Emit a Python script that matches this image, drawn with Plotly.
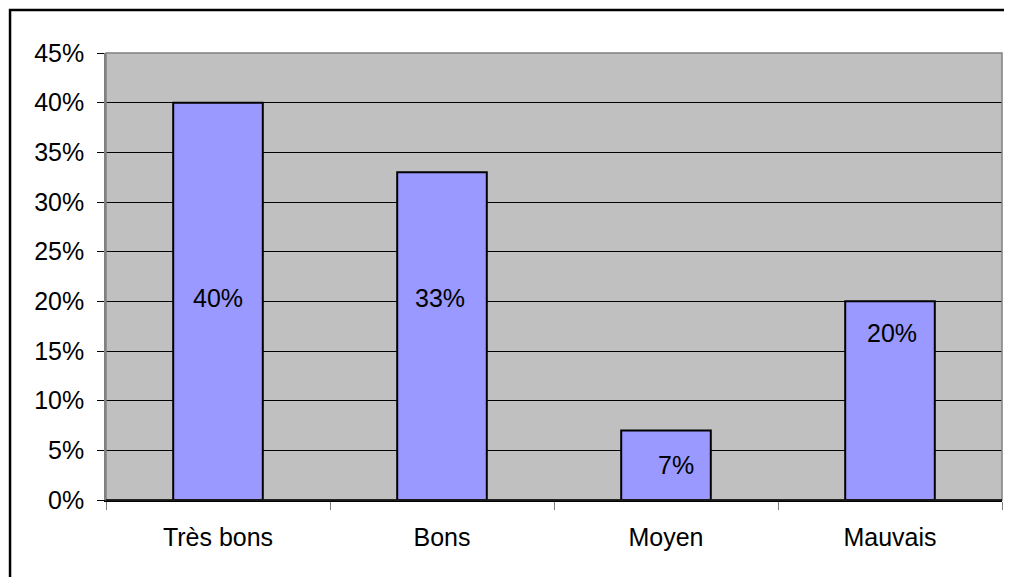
import plotly.graph_objects as go

categories = ["Très bons", "Bons", "Moyen", "Mauvais"]
values = [0.40, 0.33, 0.07, 0.20]
value_labels = ["40%", "33%", "7%", "20%"]
y_ticks = [0, 0.05, 0.10, 0.15, 0.20, 0.25, 0.30, 0.35, 0.40, 0.45]

# label placement (as seen in the reference)
label_y = [0.203, 0.203, 0.035, 0.168]
label_xshift = [0, -2, 10, 2]

FONT = "Liberation Sans, Arial, sans-serif"
FS = 25

fig = go.Figure()
fig.add_trace(go.Bar(
    x=categories, y=values, width=0.4,
    marker=dict(color="#9999FF", line=dict(color="black", width=2)),
    hoverinfo="skip",
))

for c, ly, t, xs in zip(categories, label_y, value_labels, label_xshift):
    fig.add_annotation(x=c, y=ly, text=t, showarrow=False, xshift=xs,
                       font=dict(family=FONT, size=FS, color="black"))

# plot-area border (gray)
fig.add_shape(type="rect", xref="paper", yref="paper", x0=0, x1=1, y0=0, y1=1,
              line=dict(color="#808080", width=1.5), layer="above")
# x-axis line on top
fig.add_shape(type="line", xref="paper", yref="paper", x0=0, x1=1, y0=0, y1=0,
              line=dict(color="black", width=1.5), layer="above")
# outer chart border
fig.add_shape(type="rect", xref="paper", yref="paper",
              x0=-0.1071, x1=1.03, y0=-0.3, y1=1.0962,
              line=dict(color="black", width=2.5), layer="above")

fig.update_layout(
    width=1004, height=569,
    margin=dict(l=98, r=10, t=45, b=77),
    paper_bgcolor="white", plot_bgcolor="#C0C0C0",
    showlegend=False,
    font=dict(family=FONT, size=FS, color="black"),
    bargap=0.6,
)
fig.update_xaxes(
    type="category", range=[-0.5, 3.5],
    ticks="outside", tickson="boundaries", ticklen=8, tickcolor="#808080",
    showline=True, linecolor="black", linewidth=1.5,
    showgrid=False, ticklabelstandoff=14,
    tickfont=dict(family=FONT, size=FS, color="black"),
)
fig.update_yaxes(
    range=[0, 0.45], tickmode="array", tickvals=y_ticks, tickformat=".0%",
    ticks="outside", ticklen=7, tickcolor="black",
    showline=True, linecolor="#808080", linewidth=1.5,
    showgrid=True, gridcolor="black", gridwidth=1,
    zeroline=False, ticklabelstandoff=8,
    tickfont=dict(family=FONT, size=FS, color="black"),
)

fig.write_html("out.html")
